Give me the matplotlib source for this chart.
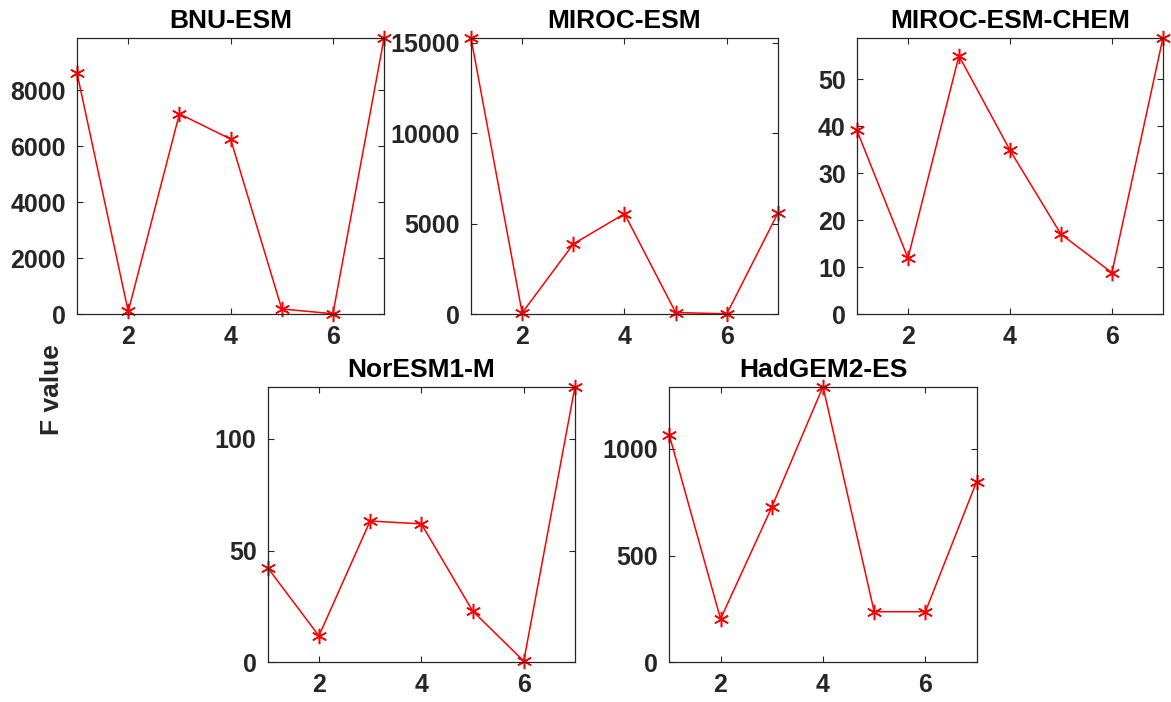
from matplotlib import pyplot as plt

plt.rcParams['font.family'] = ['Liberation Sans', 'DejaVu Sans']
plt.rcParams['font.weight'] = 'bold'

STEPS = [1, 2, 3, 4, 5, 6, 7]

MODELS = ["BNU-ESM", "MIROC-ESM", "MIROC-ESM-CHEM", "NorESM1-M", "HadGEM2-ES"]

BNU_ESM = [8600, 90, 7150, 6250, 180, 10, 9860]
MIROC_ESM = [15250, 60, 3870, 5540, 80, 10, 5590]
MIROC_ESM_CHEM = [39.1, 11.9, 55.0, 34.9, 17.0, 8.8, 58.8]
NORESM1_M = [42.3, 11.8, 63.2, 61.9, 23.0, 0.5, 123.3]
HADGEM2_ES = [1064, 203, 727, 1292, 237, 237, 847]

Y_TICKS = [
    [0, 2000, 4000, 6000, 8000],
    [0, 5000, 10000, 15000],
    [0, 10, 20, 30, 40, 50],
    [0, 50, 100],
    [0, 500, 1000],
]

series = [BNU_ESM, MIROC_ESM, MIROC_ESM_CHEM, NORESM1_M, HADGEM2_ES]

# axes boxes in figure fractions: left, bottom, width, height
boxes = [
    [0.0658, 0.5527, 0.2622, 0.3932],
    [0.4022, 0.5527, 0.2622, 0.3932],
    [0.7318, 0.5527, 0.2613, 0.3932],
    [0.2286, 0.0566, 0.2624, 0.3926],
    [0.5716, 0.0566, 0.2624, 0.3926],
]

grey = '#262626'
fig = plt.figure(figsize=(11.71, 7.02), dpi=100)

for name, vals, ticks, box in zip(MODELS, series, Y_TICKS, boxes):
    ax = fig.add_axes(box)
    ax.plot(STEPS, vals, color='red', linewidth=1.1,
            marker=(6, 2, 0), markersize=11, markeredgewidth=1.1,
            clip_on=False)
    ax.set_xlim(1, 7)
    ax.set_ylim(0, max(vals))
    ax.set_xticks([2, 4, 6])
    ax.set_yticks(ticks)
    ax.set_title(name, fontsize=19, fontweight='bold', pad=7)
    ax.tick_params(direction='in', top=True, right=True, length=4,
                   width=0.8, colors=grey, labelsize=18, pad=8)
    for sp in ax.spines.values():
        sp.set_color(grey)
        sp.set_linewidth(0.9)
    for lab in ax.get_xticklabels() + ax.get_yticklabels():
        lab.set_fontweight('bold')

fig.text(0.0444, 0.4444, "F value", rotation=90, ha='center', va='center',
         fontsize=19, fontweight='bold', color=grey)

plt.savefig("out.png", dpi=100)
